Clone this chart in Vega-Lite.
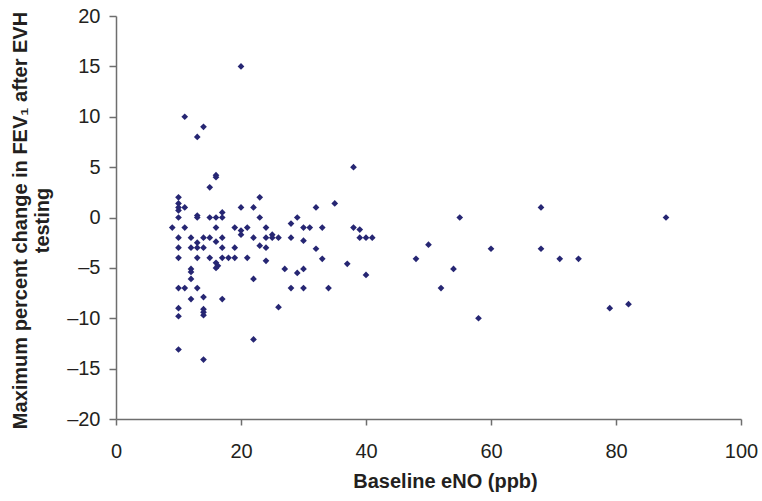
{
  "$schema": "https://vega.github.io/schema/vega-lite/v6.json",
  "width": 625,
  "height": 403,
  "autosize": {"type": "none"},
  "padding": {"left": 116, "top": 16, "right": 21, "bottom": 82},
  "background": "white",
  "config": {
    "view": {"stroke": null},
    "font": "Liberation Sans"
  },
  "data": {
    "values": [
      {"x": 11, "y": 10}, {"x": 14, "y": 9}, {"x": 13, "y": 8}, {"x": 16, "y": 4.2}, {"x": 16, "y": 4}, {"x": 15, "y": 3}, {"x": 20, "y": 15},
      {"x": 10, "y": 2}, {"x": 10, "y": 1.4}, {"x": 10, "y": 1}, {"x": 10, "y": 0.7}, {"x": 11, "y": 1}, {"x": 10, "y": 0}, {"x": 13, "y": 0.2}, {"x": 13, "y": 0}, {"x": 15, "y": 0}, {"x": 16, "y": 0}, {"x": 17, "y": 0}, {"x": 17, "y": 0.5},
      {"x": 20, "y": 1}, {"x": 22, "y": 1}, {"x": 23, "y": 2}, {"x": 23, "y": 0}, {"x": 29, "y": 0}, {"x": 28, "y": -0.6},
      {"x": 9, "y": -1}, {"x": 11, "y": -1}, {"x": 16, "y": -1}, {"x": 19, "y": -1}, {"x": 20, "y": -1.3}, {"x": 20, "y": -1.7}, {"x": 21, "y": -1}, {"x": 24, "y": -1}, {"x": 30, "y": -1},
      {"x": 10, "y": -2}, {"x": 12, "y": -2}, {"x": 14, "y": -2}, {"x": 15, "y": -2}, {"x": 17, "y": -2}, {"x": 22, "y": -2}, {"x": 24, "y": -2}, {"x": 25, "y": -1.7}, {"x": 25, "y": -2}, {"x": 26, "y": -2}, {"x": 28, "y": -2},
      {"x": 13, "y": -2.5}, {"x": 16, "y": -2.4}, {"x": 30, "y": -2.3},
      {"x": 10, "y": -3}, {"x": 12, "y": -3}, {"x": 13, "y": -3}, {"x": 14, "y": -3}, {"x": 17, "y": -3}, {"x": 19, "y": -3}, {"x": 23, "y": -2.8}, {"x": 24, "y": -3},
      {"x": 10, "y": -4}, {"x": 13, "y": -4}, {"x": 15, "y": -4}, {"x": 17, "y": -4}, {"x": 18, "y": -4}, {"x": 19, "y": -4}, {"x": 21, "y": -4}, {"x": 24, "y": -4.3},
      {"x": 16, "y": -4.5}, {"x": 16.3, "y": -4.8}, {"x": 16, "y": -5},
      {"x": 12, "y": -5.1}, {"x": 12, "y": -5.4}, {"x": 12, "y": -6.1}, {"x": 22, "y": -6.1}, {"x": 27, "y": -5.1}, {"x": 29, "y": -5.5}, {"x": 30, "y": -5.1},
      {"x": 10, "y": -7}, {"x": 11, "y": -7}, {"x": 13, "y": -7}, {"x": 28, "y": -7}, {"x": 30, "y": -7},
      {"x": 12, "y": -8.1}, {"x": 14, "y": -7.9}, {"x": 17, "y": -8.1}, {"x": 26, "y": -8.9},
      {"x": 10, "y": -9}, {"x": 10, "y": -9.8}, {"x": 14, "y": -9.1}, {"x": 14, "y": -9.4}, {"x": 14, "y": -9.7},
      {"x": 22, "y": -12.1}, {"x": 10, "y": -13.1}, {"x": 14, "y": -14.1},
      {"x": 38, "y": 5}, {"x": 32, "y": 1}, {"x": 35, "y": 1.4}, {"x": 31, "y": -1}, {"x": 33, "y": -1}, {"x": 38, "y": -1}, {"x": 39, "y": -1.2},
      {"x": 39, "y": -2}, {"x": 40, "y": -2}, {"x": 41, "y": -2}, {"x": 32, "y": -3.1}, {"x": 33, "y": -4.1}, {"x": 37, "y": -4.6}, {"x": 50, "y": -2.7}, {"x": 48, "y": -4.1}, {"x": 40, "y": -5.7}, {"x": 34, "y": -7}, {"x": 52, "y": -7},
      {"x": 55, "y": 0}, {"x": 68, "y": 1}, {"x": 88, "y": 0}, {"x": 60, "y": -3.1}, {"x": 68, "y": -3.1}, {"x": 71, "y": -4.1}, {"x": 74, "y": -4.1}, {"x": 54, "y": -5.1}, {"x": 58, "y": -10}, {"x": 79, "y": -9}, {"x": 82, "y": -8.6}
    ]
  },
  "mark": {"type": "point", "shape": "diamond", "filled": true, "size": 45, "color": "#262673", "opacity": 1},
  "encoding": {
    "x": {
      "field": "x", "type": "quantitative",
      "scale": {"domain": [0, 100], "nice": false, "zero": false},
      "axis": {
        "title": "Baseline eNO (ppb)",
        "values": [0, 20, 40, 60, 80, 100],
        "grid": false,
        "domainColor": "#6e6e6e", "domainWidth": 1.5,
        "tickColor": "#6e6e6e", "tickWidth": 1.5, "tickSize": 6,
        "labelFontSize": 20, "labelColor": "#231f20", "labelPadding": 16, "labelFlush": false,
        "titleFontSize": 20, "titleFontWeight": "bold", "titleColor": "#231f20",
        "titleX": 329, "titleY": 68, "titleBaseline": "alphabetic", "titleAlign": "center"
      }
    },
    "y": {
      "field": "y", "type": "quantitative",
      "scale": {"domain": [-20, 20], "nice": false, "zero": false},
      "axis": {
        "title": ["Maximum percent change in FEV₁ after EVH", "testing"],
        "values": [-20, -15, -10, -5, 0, 5, 10, 15, 20],
        "labelExpr": "replace(datum.label, '−', '–')",
        "grid": false,
        "domainColor": "#6e6e6e", "domainWidth": 1.5,
        "tickColor": "#6e6e6e", "tickWidth": 1.5, "tickSize": 7,
        "labelFontSize": 20, "labelColor": "#231f20", "labelPadding": 9,
        "titleFontSize": 20, "titleFontWeight": "bold", "titleColor": "#231f20",
        "titleAngle": -90, "titleX": -90, "titleY": 204, "titleBaseline": "alphabetic", "titleAlign": "center", "titleLineHeight": 22
      }
    }
  }
}
